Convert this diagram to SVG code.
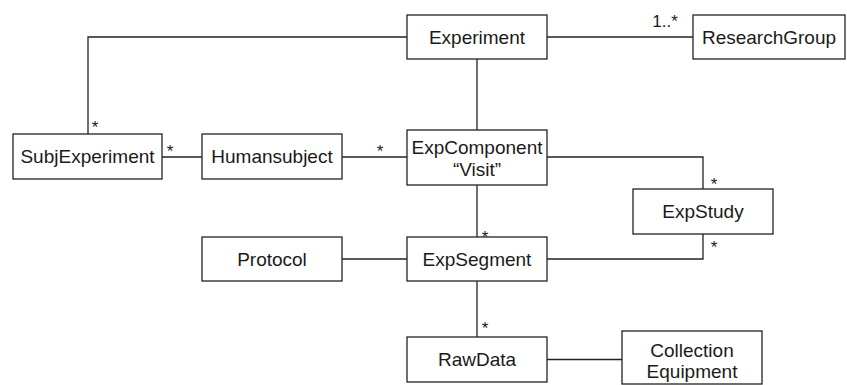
<svg xmlns="http://www.w3.org/2000/svg" width="847" height="385" viewBox="0 0 847 385">
<style>
.box{fill:#fff;stroke:#222;stroke-width:1.3}
.ln{fill:none;stroke:#222;stroke-width:1.3}
.t{font-family:"Liberation Sans",Arial,sans-serif;font-size:19px;fill:#1a1a1a;text-anchor:middle}
.m{font-family:"Liberation Sans",Arial,sans-serif;font-size:17px;fill:#1a1a1a;text-anchor:middle}
</style>
<rect width="847" height="385" fill="#fff"/>
<g id="connectors">
<polyline class="ln" points="407,37 88,37 88,134"/>
<line class="ln" x1="547" y1="37" x2="693" y2="37"/>
<line class="ln" x1="477" y1="59" x2="477" y2="130"/>
<line class="ln" x1="162" y1="157" x2="202" y2="157"/>
<line class="ln" x1="342" y1="157" x2="407" y2="157"/>
<polyline class="ln" points="547,157 703,157 703,189"/>
<line class="ln" x1="477" y1="185" x2="477" y2="237"/>
<polyline class="ln" points="547,259 703,259 703,234"/>
<line class="ln" x1="342" y1="259" x2="407" y2="259"/>
<line class="ln" x1="477" y1="281" x2="477" y2="337"/>
<line class="ln" x1="547" y1="359.5" x2="622" y2="359.5"/>
<text class="m" x="95" y="133">*</text>
<text class="m" x="170" y="157">*</text>
<text class="m" x="380" y="157">*</text>
<text class="m" x="665" y="27">1..*</text>
<text class="m" x="714" y="190">*</text>
<text class="m" x="485" y="243">*</text>
<text class="m" x="714" y="253">*</text>
<text class="m" x="485" y="334">*</text>
</g>
<g id="Experiment"><rect class="box" x="407" y="15" width="140" height="44"/><text class="t" x="477" y="44">Experiment</text></g>
<g id="ResearchGroup"><rect class="box" x="693" y="15" width="152" height="44"/><text class="t" x="769" y="44">ResearchGroup</text></g>
<g id="SubjExperiment"><rect class="box" x="13" y="134" width="149" height="45"/><text class="t" x="87.5" y="163">SubjExperiment</text></g>
<g id="Humansubject"><rect class="box" x="202" y="134" width="140" height="45"/><text class="t" x="272" y="163">Humansubject</text></g>
<g id="ExpComponent"><rect class="box" x="407" y="130" width="140" height="55"/><text class="t" x="477" y="154">ExpComponent</text><text class="t" x="477" y="176">“Visit”</text></g>
<g id="ExpStudy"><rect class="box" x="633" y="189" width="140" height="45"/><text class="t" x="703" y="218">ExpStudy</text></g>
<g id="Protocol"><rect class="box" x="202" y="237" width="140" height="44"/><text class="t" x="272" y="266">Protocol</text></g>
<g id="ExpSegment"><rect class="box" x="407" y="237" width="140" height="44"/><text class="t" x="477" y="266">ExpSegment</text></g>
<g id="RawData"><rect class="box" x="407" y="337" width="140" height="45"/><text class="t" x="477" y="366">RawData</text></g>
<g id="CollectionEquipment"><rect class="box" x="622" y="331" width="140" height="53"/><text class="t" x="692" y="357">Collection</text><text class="t" x="692" y="378">Equipment</text></g>
</svg>
